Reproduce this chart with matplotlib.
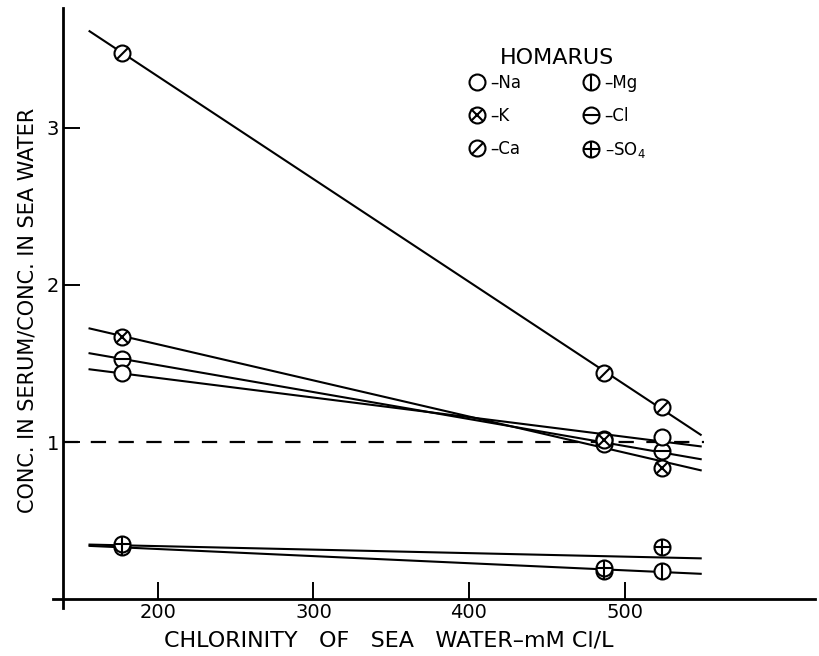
import numpy as np
import matplotlib
matplotlib.use('Agg')
import matplotlib.pyplot as plt
from matplotlib.path import Path
from matplotlib.lines import Line2D
from matplotlib.legend_handler import HandlerTuple

# ---- data ----
chlorinity = [177, 487, 524]          # mM Cl/L of sea water
na = [1.44, 1.02, 1.03]
k = [1.67, 1.01, 0.835]
ca = [3.48, 1.44, 1.22]
mg = [0.33, 0.18, 0.18]
cl = [1.53, 0.99, 0.94]
so4 = [0.35, 0.20, 0.33]
ion_labels = ['Na', 'K', 'Ca', 'Mg', 'Cl', 'SO$_4$']
x_ticks = [200, 300, 400, 500]
y_ticks = [1, 2, 3]
fit_range = [156, 549]
unity = 1.0

plt.rcParams['font.family'] = ['DejaVu Sans']
plt.rcParams['lines.scale_dashes'] = False

fig = plt.figure(figsize=(8.2, 6.56), dpi=100)
ax = fig.add_axes([53 / 820, 1 - 608 / 656, (815 - 53) / 820, 600 / 656])
ax.set_xlim(132.5, 622.5)
ax.set_ylim(-0.057, 3.764)

axis_x = 139
ax.spines['top'].set_visible(False)
ax.spines['right'].set_visible(False)
ax.spines['left'].set_position(('data', axis_x))
ax.spines['bottom'].set_position(('data', 0))
for s in ('left', 'bottom'):
    ax.spines[s].set_linewidth(2.0)

ax.set_xticks(x_ticks)
ax.set_yticks(y_ticks)
ax.tick_params(axis='both', direction='in', length=12, width=1.4, labelsize=14)
ax.tick_params(axis='x', pad=3)
ax.tick_params(axis='y', pad=3)

S = 11.5
MEW = 1.5
slash = Path([(-1, -1), (1, 1)], [Path.MOVETO, Path.LINETO])
inner = {
    'Na': (None, 1.0),
    'K': ('x', 0.72),
    'Ca': (slash, 0.72),
    'Mg': ('|', 1.0),
    'Cl': ('_', 1.0),
    'SO4': ('+', 1.0),
}

series = [('Ca', ca), ('Cl', cl), ('Na', na), ('K', k), ('Mg', mg), ('SO4', so4)]

xf = np.array(fit_range, dtype=float)
# dashed line of equality
ax.hlines(unity, axis_x, fit_range[1] + 2, colors='k', linestyles=(0, (11, 9)), lw=1.6, zorder=2)

for name, vals in series:
    c = np.polyfit(chlorinity, vals, 1)
    ax.plot(xf, np.polyval(c, xf), color='k', lw=1.5, zorder=2)

def make_handles(name):
    m, sc = inner[name]
    h = [Line2D([], [], ls='none', marker='o', ms=S, mfc='white', mec='k', mew=MEW)]
    if m is not None:
        h.append(Line2D([], [], ls='none', marker=m, ms=S * sc, mec='k', mfc='none', mew=MEW))
    return h

for name, vals in series:
    for h in make_handles(name):
        ax.plot(chlorinity, vals, ls='none', marker=h.get_marker(), ms=h.get_markersize(),
                mfc=h.get_markerfacecolor(), mec='k', mew=MEW, zorder=4)

order = ['Na', 'K', 'Ca', 'Mg', 'Cl', 'SO4']
handles = [tuple(make_handles(n)) for n in order]
labels = ['\u2013' + l for l in ion_labels]
leg = ax.legend(handles, labels, ncol=2, loc='upper left',
                bbox_to_anchor=(468.6 / 820, 1 - 74 / 656), bbox_transform=fig.transFigure,
                borderaxespad=0, borderpad=0, frameon=False,
                fontsize=12, handlelength=1.0, handletextpad=0.3, columnspacing=3.7,
                labelspacing=0.9, handler_map={tuple: HandlerTuple(ndivide=1)})
fig.text(557 / 820, 1 - 58 / 656, 'HOMARUS', ha='center', va='center', fontsize=16)

fig.text(389 / 820, 1 - 640 / 656, 'CHLORINITY   OF   SEA   WATER\u2013mM Cl/L',
         ha='center', va='center', fontsize=16)
fig.text(28 / 820, 1 - 310 / 656, 'CONC. IN SERUM/CONC. IN SEA WATER',
         ha='center', va='center', rotation=90, fontsize=15)

fig.savefig('out.png', dpi=100)
